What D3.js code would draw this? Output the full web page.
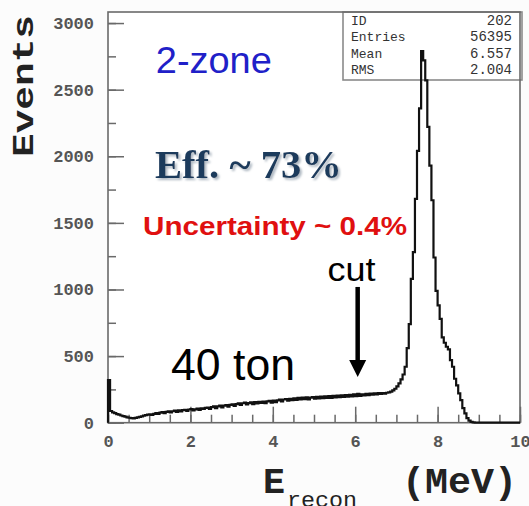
<!DOCTYPE html>
<html>
<head>
<meta charset="utf-8">
<script src="https://cdn.jsdelivr.net/npm/d3@7"></script>
<style>
html,body{margin:0;padding:0;background:#fcfcfc;}
svg{display:block;}
</style>
</head>
<body>
<svg id="chart" width="529" height="506"></svg>
<script>
// ---------- data ----------
const binWidth = 0.05;            // MeV
const binStart = 0;
const counts = [
 320, 88, 78, 72, 65, 60, 54, 50, 45, 40,
 37, 34, 33, 36, 40, 44, 48, 53, 57, 60,
 63, 58, 66, 72, 66, 75, 79, 71, 81, 85,
 77, 86, 90, 82, 92, 85, 94, 97, 88, 99,
 102, 92, 100, 106, 96, 108, 103, 111, 114, 104,
 117, 122, 110, 123, 128, 115, 128, 133, 121, 134,
 138, 126, 139, 145, 133, 146, 150, 137, 147, 153,
 140, 154, 145, 157, 148, 159, 146, 160, 164, 151,
 165, 155, 168, 174, 160, 174, 178, 165, 179, 169,
 183, 172, 186, 174, 188, 177, 190, 175, 188, 193,
 180, 194, 183, 196, 185, 198, 187, 200, 186, 201,
 190, 203, 192, 205, 193, 207, 196, 210, 198, 212,
 200, 216, 202, 213, 205, 217, 207, 219, 210, 220,
 212, 222, 216, 223, 219, 225, 228, 233, 242, 255,
 272, 295, 325, 362, 420, 560, 740, 1080, 1280, 1680,
 2040, 2360, 2790, 2720, 2570, 2220, 1930, 1670, 1240, 990,
 880, 780, 640, 600, 570, 550, 470, 420, 330, 280,
 220, 170, 110, 70, 35, 15, 6, 3, 1, 0,
 0, 0, 0, 0, 0, 0, 0, 0, 0, 0,
 0, 0, 0, 0, 0, 0, 0, 0, 0, 0
];
const xDomain = [0, 10];
const yDomain = [0, 3083];
const xMajorTicks = [0, 2, 4, 6, 8, 10];
const xMinorStep = 0.5;
const yMajorTicks = [0, 500, 1000, 1500, 2000, 2500, 3000];
const yMinorStep = 250;
const statsLabels = ["ID", "Entries", "Mean", "RMS"];
const statsValues = ["202", "56395", "6.557", "2.004"];
const cutEnergy = 6.06;
const cutArrowRange = [1019, 343];
const yTitle = "Events";
const xTitleMain = "E";
const xTitleSub = "recon";
const xTitleUnit = "(MeV)";
// annotations anchored in data coordinates
const notes = [
  {text: "2-zone", x: 1.16, y: 2625},
  {text: "Eff. ~ 73%", x: 1.14, y: 1837},
  {text: "Uncertainty ~ 0.4%", x: 0.85, y: 1409},
  {text: "cut", x: 5.33, y: 1064},
  {text: "40 ton", x: 1.53, y: 321}
];

// ---------- layout ----------
const svg = d3.select("#chart");
const L = 108, R = 520, T = 12, B = 422.7;
const x = d3.scaleLinear().domain(xDomain).range([L, R]);
const y = d3.scaleLinear().domain(yDomain).range([B, T]);

const defs = svg.append("defs");
const f = defs.append("filter").attr("id", "shadow").attr("x", "-10%").attr("y", "-20%")
  .attr("width", "130%").attr("height", "150%");
f.append("feDropShadow").attr("dx", 2).attr("dy", 2).attr("stdDeviation", 0.8)
  .attr("flood-color", "#9aa6b2").attr("flood-opacity", 0.8);

svg.append("rect").attr("x", 0).attr("y", 0).attr("width", 529).attr("height", 506).attr("fill", "#fcfcfc");
svg.append("rect").attr("x", L).attr("y", T).attr("width", R - L).attr("height", B - T).attr("fill", "#ffffff");

// stats box (drawn under histogram)
const box = svg.append("g");
box.append("rect").attr("x", 343).attr("y", T).attr("width", 179).attr("height", 68)
  .attr("fill", "#ffffff").attr("stroke", "#8a8a8a").attr("stroke-width", 1.6);
statsLabels.forEach((s, i) => {
  box.append("text").attr("x", 351).attr("y", 25 + i * 16.4).text(s)
    .attr("font-family", "Liberation Mono, DejaVu Sans Mono, monospace").attr("font-size", 13)
    .attr("fill", "#333");
  box.append("text").attr("x", 512).attr("y", 25 + i * 16.4).text(statsValues[i])
    .attr("text-anchor", "end")
    .attr("font-family", "Liberation Mono, DejaVu Sans Mono, monospace").attr("font-size", 14)
    .attr("fill", "#333");
});

// axes
const tickFont = "Liberation Mono, DejaVu Sans Mono, monospace";
const xMinor = d3.range(xDomain[0], xDomain[1] + 1e-9, xMinorStep);
const yMinor = d3.range(yDomain[0], 3000 + 1e-9, yMinorStep);

const gxMinor = svg.append("g").attr("transform", `translate(0,${B})`)
  .call(d3.axisBottom(x).tickValues(xMinor).tickSizeInner(-8).tickSizeOuter(0).tickFormat(""));
const gx = svg.append("g").attr("transform", `translate(0,${B})`)
  .call(d3.axisBottom(x).tickValues(xMajorTicks).tickSizeInner(-16).tickSizeOuter(0).tickPadding(12).tickFormat(d3.format("d")));
const gyMinor = svg.append("g").attr("transform", `translate(${L},0)`)
  .call(d3.axisLeft(y).tickValues(yMinor).tickSizeInner(-8).tickSizeOuter(0).tickFormat(""));
const gy = svg.append("g").attr("transform", `translate(${L},0)`)
  .call(d3.axisLeft(y).tickValues(yMajorTicks).tickSizeInner(-16).tickSizeOuter(0).tickPadding(14).tickFormat(d3.format("d")));

[gxMinor, gx, gyMinor, gy].forEach(g => {
  g.select(".domain").remove();
  g.selectAll(".tick line").attr("stroke", "#6a6a6a").attr("stroke-width", 1.5);
  g.selectAll(".tick text").attr("font-family", tickFont).attr("font-size", 17)
    .attr("font-weight", "bold").attr("fill", "#555");
});

// frame
svg.append("rect").attr("x", L).attr("y", T).attr("width", R - L).attr("height", B - T)
  .attr("fill", "none").attr("stroke", "#6a6a6a").attr("stroke-width", 1.6);

// histogram
const pts = counts.map((c, i) => [binStart + i * binWidth, c]);
pts.unshift([binStart, 0]);
pts.push([binStart + counts.length * binWidth, counts[counts.length - 1]]);
const line = d3.line().x(d => x(d[0])).y(d => y(d[1])).curve(d3.curveStepAfter);
svg.append("path").datum(pts).attr("d", line)
  .attr("fill", "none").attr("stroke", "#111").attr("stroke-width", 2.2)
  .attr("stroke-linejoin", "miter");

// annotations
const sans = "Liberation Sans, Arial, sans-serif";
const n0 = notes[0], n1 = notes[1], n2 = notes[2], n3 = notes[3], n4 = notes[4];
svg.append("text").attr("x", x(n0.x)).attr("y", y(n0.y)).text(n0.text)
  .attr("font-family", sans).attr("font-size", 36).attr("fill", "#2020c8")
  .attr("textLength", 116).attr("lengthAdjust", "spacingAndGlyphs");
svg.append("text").attr("x", x(n1.x)).attr("y", y(n1.y)).text(n1.text)
  .attr("font-family", "Liberation Serif, Times New Roman, serif").attr("font-weight", "bold")
  .attr("font-size", 40).attr("fill", "#1d3b5c").attr("filter", "url(#shadow)")
  .attr("textLength", 187).attr("lengthAdjust", "spacingAndGlyphs");
svg.append("text").attr("x", x(n2.x)).attr("y", y(n2.y)).text(n2.text)
  .attr("font-family", sans).attr("font-weight", "bold").attr("font-size", 26).attr("fill", "#e01010")
  .attr("textLength", 264).attr("lengthAdjust", "spacingAndGlyphs");
svg.append("text").attr("x", x(n3.x)).attr("y", y(n3.y)).text(n3.text)
  .attr("font-family", sans).attr("font-size", 34).attr("fill", "#000")
  .attr("textLength", 48).attr("lengthAdjust", "spacingAndGlyphs");
svg.append("text").attr("x", x(n4.x)).attr("y", y(n4.y)).text(n4.text)
  .attr("font-family", sans).attr("font-size", 45).attr("fill", "#000")
  .attr("textLength", 124).attr("lengthAdjust", "spacingAndGlyphs");

// cut arrow
const ax = x(cutEnergy), aTop = y(cutArrowRange[0]), aTip = y(cutArrowRange[1]);
svg.append("line").attr("x1", ax).attr("x2", ax).attr("y1", aTop).attr("y2", aTip - 14)
  .attr("stroke", "#000").attr("stroke-width", 4.5);
svg.append("path")
  .attr("d", `M${ax - 8.5},${aTip - 17} L${ax + 8.5},${aTip - 17} L${ax},${aTip} Z`)
  .attr("fill", "#000");

// axis titles
svg.append("text").attr("transform", "translate(33,86) rotate(-90)")
  .attr("text-anchor", "middle").text(yTitle)
  .attr("font-family", tickFont).attr("font-weight", "bold").attr("font-size", 30)
  .attr("fill", "#222").attr("textLength", 142).attr("lengthAdjust", "spacingAndGlyphs");
svg.append("text").attr("x", 263).attr("y", 493).text(xTitleMain)
  .attr("font-family", tickFont).attr("font-weight", "bold").attr("font-size", 36)
  .attr("fill", "#222").attr("textLength", 22).attr("lengthAdjust", "spacingAndGlyphs");
svg.append("text").attr("x", 287).attr("y", 507).text(xTitleSub)
  .attr("font-family", tickFont).attr("font-size", 22)
  .attr("fill", "#222").attr("textLength", 70).attr("lengthAdjust", "spacingAndGlyphs");
svg.append("text").attr("x", 402).attr("y", 493).text(xTitleUnit)
  .attr("font-family", tickFont).attr("font-weight", "bold").attr("font-size", 36)
  .attr("fill", "#222").attr("textLength", 115).attr("lengthAdjust", "spacingAndGlyphs");
</script>
</body>
</html>
